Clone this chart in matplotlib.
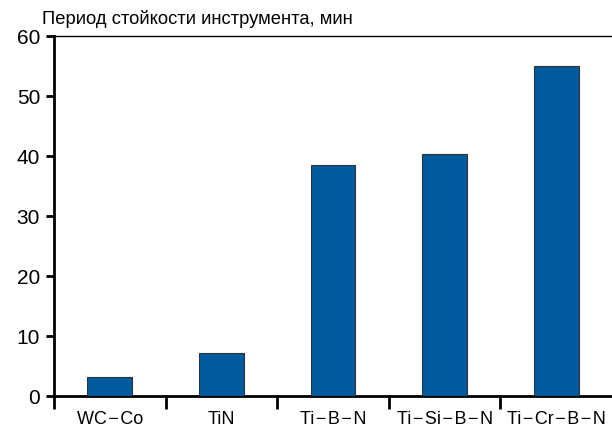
import numpy as np
import matplotlib.pyplot as plt
from matplotlib.ticker import FixedLocator

coatings = ['WC\u200a\u2212\u200aCo', 'TiN', 'Ti\u200a\u2212\u200aB\u200a\u2212\u200aN',
            'Ti\u200a\u2212\u200aSi\u200a\u2212\u200aB\u200a\u2212\u200aN',
            'Ti\u200a\u2212\u200aCr\u200a\u2212\u200aB\u200a\u2212\u200aN']
tool_life = [3.2, 7.1, 38.5, 40.3, 55.0]
y_ticks = [0, 10, 20, 30, 40, 50, 60]

plt.rcParams['font.family'] = ['Liberation Sans', 'DejaVu Sans']

fig = plt.figure(figsize=(6.12, 4.27), dpi=100)
ax = fig.add_axes([54 / 612, 1 - 397 / 427, 1 - 54 / 612, (397 - 37) / 427])

x = np.arange(len(coatings))
ax.bar(x, tool_life, width=0.4, color='#005a9e', edgecolor='#333333', linewidth=0.8, zorder=3)

ax.set_xlim(-0.5, len(coatings) - 0.5)
ax.set_ylim(0, 60)
ax.set_yticks(y_ticks)
ax.set_xticks(x)
ax.set_xticklabels(coatings)
ax.xaxis.set_minor_locator(FixedLocator(np.arange(len(coatings)) - 0.5))

ax.tick_params(axis='x', which='major', length=0, pad=10, labelsize=13)
ax.tick_params(axis='x', which='minor', length=9, width=2, direction='out')
ax.tick_params(axis='y', length=6, width=2, labelsize=15, pad=4)

for s in ['left', 'bottom']:
    ax.spines[s].set_linewidth(2)
ax.spines['top'].set_linewidth(1)
ax.spines['right'].set_visible(False)

# title sits above the frame, left-aligned like in the source figure
fig.text(42 / 612, 1 - 19 / 427, 'Период стойкости инструмента, мин',
         fontsize=13.2, va='center', ha='left')

fig.savefig('out.png', dpi=100)
